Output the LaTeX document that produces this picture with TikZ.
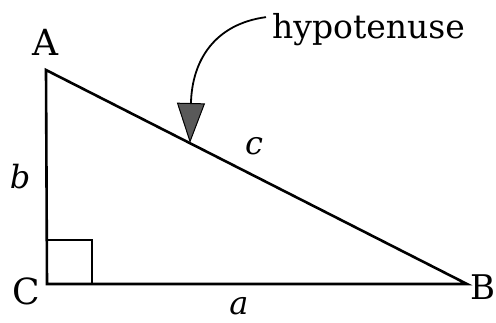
\documentclass[tikz,border=0pt]{standalone}
\usepackage{fontspec}
\setmainfont{DejaVu Serif}
\usetikzlibrary{arrows.meta}
\begin{document}
\begin{tikzpicture}[x=1pt,y=-1pt,
  side/.style={line width=2.6pt, line cap=round, line join=miter},
  lbl/.style={inner sep=0pt, font=\fontsize{36}{40}\selectfont},
  ilbl/.style={inner sep=0pt, font=\fontsize{32}{36}\selectfont\itshape},
  pointer/.style={line width=1.8pt,
    -{Triangle[length=40pt,width=28pt,fill=black!65,line width=1pt]}}]
\useasboundingbox (0,0) rectangle (496,322);
\coordinate (A) at (46,70);
\coordinate (C) at (47,284);
\coordinate (B) at (467,284);
\coordinate (tip) at (190,143);
\draw[side] (A) -- (C) -- (B) -- cycle;
\draw[line width=2pt] (47,240) -| (92,284);
\node[lbl] (nA) at (45,42) {A};
\node[lbl] (nC) at (26,291) {C};
\node[lbl,font=\fontsize{34}{38}\selectfont,anchor=west] (nB) at (470,287) {B};
\node[ilbl] (nb) at (20,177) {b};
\node[ilbl] (nc) at (254,146) {c};
\node[ilbl] (na) at (239,306) {a};
\node[lbl,font=\fontsize{33}{36}\selectfont,anchor=base west] (hyp) at (272,38) {hypotenuse};
\draw[pointer] (hyp.west) ++(-6,-12) coordinate (hs)
  .. controls (215,24) and (192,60) .. (tip);
\end{tikzpicture}
\end{document}
